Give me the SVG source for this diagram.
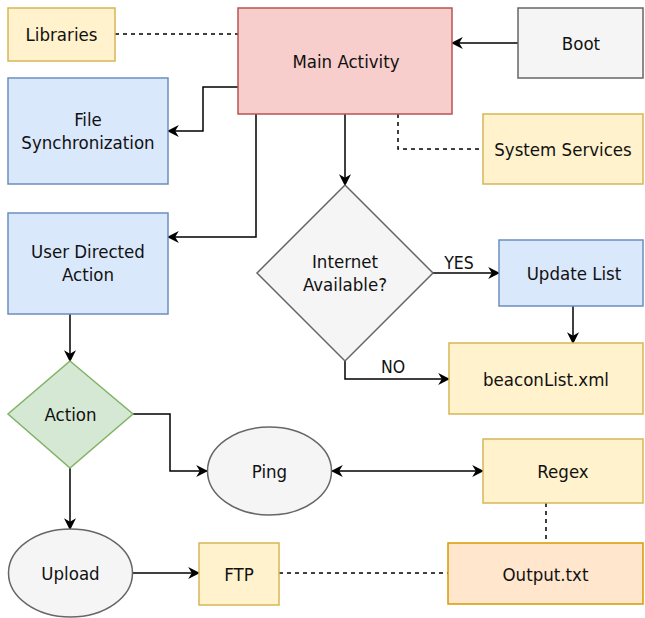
<svg xmlns="http://www.w3.org/2000/svg" width="645" height="618" viewBox="0 0 645 618">
<defs>
<marker id="ah" viewBox="0 0 10 10" refX="9" refY="5" markerWidth="12" markerHeight="12" markerUnits="userSpaceOnUse" orient="auto-start-reverse">
<path d="M0,0 L10,5 L0,10 L3,5 Z" fill="#000"/>
</marker>
<style>
text{font-family:"DejaVu Sans Condensed","DejaVu Sans","Liberation Sans",sans-serif;font-stretch:condensed;font-size:18.5px;fill:#111;text-anchor:middle;dominant-baseline:central}
.yel{fill:#fff2cc;stroke:#d6b656;stroke-width:1.5}
.red{fill:#f8cecc;stroke:#b85450;stroke-width:1.5}
.blu{fill:#dae8fc;stroke:#6c8ebf;stroke-width:1.5}
.gry{fill:#f5f5f5;stroke:#666666;stroke-width:1.5}
.grn{fill:#d5e8d4;stroke:#82b366;stroke-width:1.5}
.org{fill:#ffe6cc;stroke:#d79b00;stroke-width:1.5}
.c{fill:none;stroke:#000;stroke-width:1.5}
.a{marker-end:url(#ah)}
.d{stroke-dasharray:4 4}
.lbl{font-size:17.5px}
</style>
</defs>
<g id="connectors">
<path class="c d" d="M115,34 H238"/>
<path class="c a" d="M518,43 H452"/>
<path class="c a" d="M238,87 H203 V131 H168"/>
<path class="c a" d="M256,114 V237 H168"/>
<path class="c d" d="M398,114 V149 H483"/>
<path class="c a" d="M345,114 V185"/>
<path class="c a" d="M433,273 H499"/>
<path class="c a" d="M573,306 V343"/>
<path class="c a" d="M345,361 V379 H449"/>
<path class="c a" d="M70,314 V361"/>
<path class="c a" d="M133,414 H170 V471 H207"/>
<path class="c a" style="marker-start:url(#ah)" d="M332,471 H483"/>
<path class="c d" d="M546,503 V543"/>
<path class="c a" d="M70,468 V529"/>
<path class="c a" d="M133,573 H199"/>
<path class="c d" d="M279,573 H448"/>
<text class="lbl" x="459" y="263">YES</text>
<text class="lbl" x="393" y="367">NO</text>
</g>
<g id="libraries"><rect class="yel" x="8" y="8" width="107" height="53"/><text x="61.5" y="34.5">Libraries</text></g>
<g id="main-activity"><rect class="red" x="238" y="8" width="214" height="106"/><text x="346" y="61">Main Activity</text></g>
<g id="boot"><rect class="gry" x="518" y="8" width="125" height="70"/><text x="581" y="43">Boot</text></g>
<g id="file-sync"><rect class="blu" x="8" y="78" width="160" height="106"/><text x="88" y="119">File</text><text x="88" y="142">Synchronization</text></g>
<g id="system-services"><rect class="yel" x="483" y="114" width="160" height="70"/><text x="563" y="149">System Services</text></g>
<g id="user-directed-action"><rect class="blu" x="8" y="213" width="160" height="101"/><text x="88" y="251">User Directed</text><text x="88" y="274">Action</text></g>
<g id="internet-available"><path class="gry" d="M345,185 L433,273 L345,361 L257,273 Z"/><text x="345" y="261">Internet</text><text x="345" y="284">Available?</text></g>
<g id="update-list"><rect class="blu" x="499" y="240" width="144" height="66"/><text x="574" y="273">Update List</text></g>
<g id="beaconlist"><rect class="yel" x="449" y="343" width="194" height="71"/><text x="546" y="379">beaconList.xml</text></g>
<g id="action"><path class="grn" d="M70,361 L133,414 L70,468 L8,414 Z"/><text x="70.5" y="414">Action</text></g>
<g id="ping"><ellipse class="gry" cx="269.5" cy="471" rx="62" ry="44"/><text x="269.5" y="471">Ping</text></g>
<g id="regex"><rect class="yel" x="483" y="439" width="160" height="64"/><text x="563" y="471">Regex</text></g>
<g id="upload"><ellipse class="gry" cx="70.5" cy="573" rx="62" ry="44"/><text x="70.5" y="573">Upload</text></g>
<g id="ftp"><rect class="yel" x="199" y="543" width="80" height="62"/><text x="239" y="574">FTP</text></g>
<g id="output"><rect class="org" x="448" y="543" width="195" height="61"/><text x="545.5" y="574">Output.txt</text></g>
</svg>
